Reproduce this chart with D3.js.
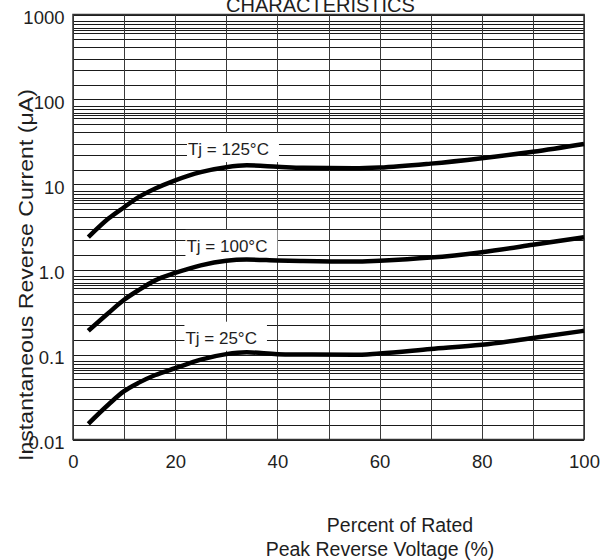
<!DOCTYPE html>
<html><head><meta charset="utf-8">
<script src="https://cdn.jsdelivr.net/npm/d3@7"></script>
<style>
body{margin:0;background:#fff}
svg text{font-family:"Liberation Sans",Arial,Helvetica,sans-serif;fill:#1e1e1e}
</style>
</head><body>
<svg id="chart" width="613" height="560"></svg>
<script>
// ---- data ----
const pctRated = [3, 7, 10, 13, 16, 20, 25, 30, 34, 40, 45, 55, 60, 70, 80, 90, 100];
const tj125 = [2.4, 4.0, 5.4, 7.2, 8.9, 11.2, 14.0, 16.0, 16.8, 16.2, 15.7, 15.5, 15.8, 17.6, 20.4, 24.3, 30];
const tj100 = [0.19, 0.31, 0.44, 0.58, 0.74, 0.91, 1.12, 1.27, 1.31, 1.28, 1.26, 1.24, 1.27, 1.38, 1.6, 1.95, 2.4];
const tj25  = [0.0153, 0.026, 0.037, 0.047, 0.057, 0.069, 0.087, 0.101, 0.106, 0.101, 0.1, 0.099, 0.103, 0.116, 0.13, 0.156, 0.19];
const seriesNames = ["Tj = 125°C", "Tj = 100°C", "Tj = 25°C"];
const xTicks = [0, 20, 40, 60, 80, 100];
const xGrid = [0, 10, 20, 30, 40, 50, 60, 70, 80, 90, 100];
const yTicks = [0.01, 0.1, 1, 10, 100, 1000];
const yTickLabels = ["0.01", "0.1", "1.0", "10", "100", "1000"];
const yDecades = [0.01, 0.1, 1, 10, 100];
const yMinorMult = [1.5, 2.25, 3, 4.15, 5.1, 6, 6.5, 7, 7.7, 8.4];
const titleText = "CHARACTERISTICS";
const yTitle = "Instantaneous Reverse Current (μA)";
const xTitle1 = "Percent of Rated";
const xTitle2 = "Peak Reverse Voltage (%)";

// ---- layout ----
const svg = d3.select("#chart");
const L = 73, R = 584, T = 14.5, B = 439.5;
const x = d3.scaleLinear().domain([0, 100]).range([L, R]);
const y = d3.scaleLog().domain([0.01, 1000]).range([B, T]);
const px = v => Math.round(v) + 0.5;

// grid
const gridG = svg.append("g");
const hVals = yDecades.flatMap(d => yMinorMult.map(m => d * m)).concat(yTicks);
gridG.selectAll("line.h").data(hVals).join("line")
  .attr("x1", L).attr("x2", R)
  .attr("y1", d => px(y(d))).attr("y2", d => px(y(d)))
  .attr("stroke", "#1a1a1a").attr("stroke-width", 1);
gridG.selectAll("line.v").data(xGrid).join("line")
  .attr("x1", d => px(x(d))).attr("x2", d => px(x(d)))
  .attr("y1", T).attr("y2", B)
  .attr("stroke", "#3a3a3a").attr("stroke-width", 1);
svg.append("rect").attr("x", L).attr("y", T).attr("width", R - L).attr("height", B - T)
  .attr("fill", "none").attr("stroke", "#333").attr("stroke-width", 1.5);

// series label boxes (white backgrounds) & labels
const labelPos = [{x: 22.5, y: 22.2}, {x: 22.2, y: 1.61}, {x: 22.0, y: 0.134}];
const labG = svg.append("g");
seriesNames.forEach((name, i) => {
  const g = labG.append("g");
  const rect = g.append("rect").attr("fill", "#fff");
  const t = g.append("text").attr("x", x(labelPos[i].x)).attr("y", y(labelPos[i].y))
    .attr("font-size", 17).text(name);
  const bb = t.node().getBBox();
  rect.attr("x", bb.x - 1).attr("y", y(labelPos[i].y) - 22)
    .attr("width", bb.width + 11).attr("height", 29);
  g.raise();
});
// re-raise text above rects
labG.selectAll("text").raise();

// curves
const line = d3.line().x(d => x(d[0])).y(d => y(d[1])).curve(d3.curveMonotoneX);
[tj125, tj100, tj25].forEach(vals => {
  svg.append("path").datum(pctRated.map((p, i) => [p, vals[i]]))
    .attr("d", line).attr("fill", "none").attr("stroke", "#000")
    .attr("stroke-width", 4.5).attr("stroke-linecap", "butt").attr("stroke-linejoin", "round");
});

// axes
const xAxis = svg.append("g").attr("transform", `translate(0,${B})`)
  .call(d3.axisBottom(x).tickValues(xTicks).tickSize(0).tickPadding(15).tickFormat(d3.format("d")));
xAxis.select(".domain").remove();
xAxis.selectAll("text").attr("font-size", 18.5).attr("font-family", null).style("fill", "#1e1e1e");

const yAxis = svg.append("g").attr("transform", `translate(${L},0)`)
  .call(d3.axisLeft(y).tickValues(yTicks).tickSize(0).tickPadding(8.5).tickFormat((d, i) => yTickLabels[i]));
yAxis.select(".domain").remove();
yAxis.selectAll("text").attr("font-size", 18.5).attr("dy", "0.49em").attr("font-family", null).style("fill", "#1e1e1e");

// titles
svg.append("text").attr("x", 226).attr("y", 12).attr("font-size", 20).text(titleText);
svg.append("text").attr("transform", "translate(33,275) rotate(-90)")
  .attr("text-anchor", "middle").attr("font-size", 21)
  .attr("textLength", 372).attr("lengthAdjust", "spacingAndGlyphs").text(yTitle);
svg.append("text").attr("x", 400).attr("y", 532).attr("text-anchor", "middle")
  .attr("font-size", 19.5).text(xTitle1);
svg.append("text").attr("x", 380).attr("y", 556).attr("text-anchor", "middle")
  .attr("font-size", 19.5).text(xTitle2);
</script>
</body></html>
